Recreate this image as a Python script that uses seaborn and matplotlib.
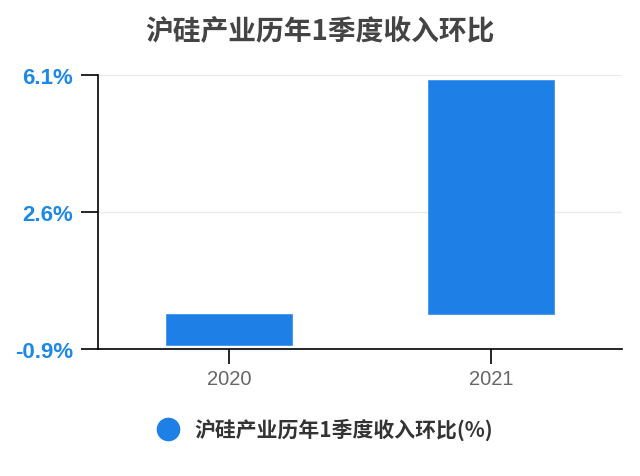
import matplotlib
matplotlib.use("Agg")
import matplotlib.pyplot as plt
from matplotlib.lines import Line2D
import pandas as pd
import seaborn as sns

years = ["2020", "2021"]
qoq_growth = [-0.80, 5.97]
y_ticks = [-0.9, 2.6, 6.1]
title = "沪硅产业历年1季度收入环比"
series_name = "沪硅产业历年1季度收入环比(%)"

BLUE = "#1E80E6"

sns.set_style("white")
plt.rcParams["font.family"] = ["Noto Sans CJK SC", "DejaVu Sans"]

df = pd.DataFrame({"year": years, "value": qoq_growth})

fig = plt.figure(figsize=(6.4, 4.77), dpi=100)
ax = fig.add_axes([0.153, 0.266, 0.819, 0.575])

sns.barplot(data=df, x="year", y="value", color=BLUE, width=0.48,
            saturation=1, edgecolor="#3d95ee", linewidth=0.6, ax=ax, zorder=3)

ax.set_ylim(y_ticks[0], y_ticks[-1])
ax.set_yticks(y_ticks)
ax.set_yticklabels([f"{v:.1f}%" for v in y_ticks], color="#1E88E5",
                   fontweight="bold", fontsize=16, family=["Liberation Sans", "DejaVu Sans"])
ax.yaxis.grid(True, color="#ebebeb", linewidth=1, zorder=0)
ax.set_axisbelow(True)

ax.tick_params(axis="y", length=12, width=1.2, color="black", pad=6, left=True)
ax.tick_params(axis="x", length=11, width=1.2, color="black", pad=3, bottom=True,
               labelsize=14.5, labelcolor="#666666")
for lab in ax.get_xticklabels():
    lab.set_family(["Liberation Sans", "DejaVu Sans"])

sns.despine(ax=ax, top=True, right=True)
for side in ["left", "bottom"]:
    ax.spines[side].set_color("black")
    ax.spines[side].set_linewidth(1.2)

ax.set_xlabel("")
ax.set_ylabel("")

fig.suptitle(title, x=0.5, y=0.963, fontsize=20, fontweight="bold", color="#444444")

handle = Line2D([], [], marker="o", linestyle="", markersize=16,
                markerfacecolor=BLUE, markeredgecolor=BLUE)
fig.legend([handle], [series_name], loc="center", bbox_to_anchor=(0.5, 0.098),
           frameon=False, handletextpad=0.3,
           labelcolor="#333333", prop={"weight": "bold", "size": 15})

fig.savefig("out.png", dpi=100)
plt.close(fig)
